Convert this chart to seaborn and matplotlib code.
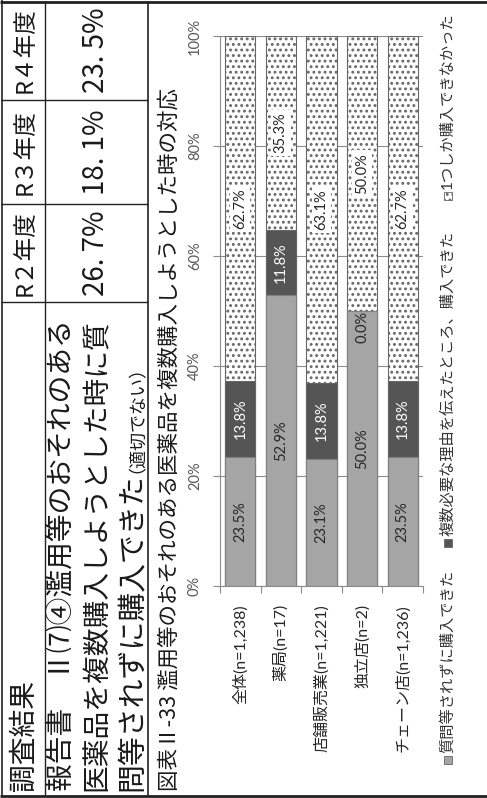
import numpy as np
import pandas as pd
import matplotlib
matplotlib.use("Agg")
import matplotlib.pyplot as plt
from matplotlib.patches import Rectangle
from matplotlib.lines import Line2D
import seaborn as sns

# ---- data ----
categories = ["全体(n=1,238)", "薬局(n=17)", "店舗販売業(n=1,221)", "独立店(n=2)", "チェーン店(n=1,236)"]
series_names = ["質問等されずに購入できた", "複数必要な理由を伝えたところ、購入できた", "1つしか購入できなかった"]
no_question = [23.5, 52.9, 23.1, 50.0, 23.5]
explained = [13.8, 11.8, 13.8, 0.0, 13.8]
only_one = [62.7, 35.3, 63.1, 50.0, 62.7]
value_ticks = [0, 20, 40, 60, 80, 100]

table_corner = "調査結果"
table_years = ["R２年度", "R３年度", "R４年度"]
table_item_lines = ["報告書　Ⅱ⑺④濫用等のおそれのある", "医薬品を複数購入しようとした時に質", "問等されずに購入できた"]
table_item_note = "（適切でない）"
table_values = ["26. 7%", "18. 1%", "23. 5%"]
chart_title = "図表Ⅱ-33 濫用等のおそれのある医薬品を複数購入しようとした時の対応"

# ---- style ----
sns.set_style("white")
CJK = ["Noto Sans CJK JP", "DejaVu Sans"]
LATIN_CJK = ["Lato", "Noto Sans CJK JP", "DejaVu Sans"]
plt.rcParams["font.family"] = CJK
plt.rcParams["hatch.linewidth"] = 1.3

LIGHT = "#a5a5a5"
DARK = "#555555"
EDGE = "#666666"
GRID = "#8c8c8c"
INK = "#1a1a1a"
LINE = "#222222"
LABEL_DARK = "#262626"

W, H = 487, 798
fig = plt.figure(figsize=(W / 100, H / 100), dpi=100)
fig.patch.set_facecolor("white")


def fx(px):
    return px / W


def fy(py):
    return 1 - py / H


def seg(x0, y0, x1, y1, lw=1.0, color=LINE):
    fig.add_artist(Line2D([fx(x0), fx(x1)], [fy(y0), fy(y1)], color=color,
                          lw=lw, transform=fig.transFigure, solid_capstyle="butt"))


# ---- table (rotated layout) ----
seg(0, 1.5, W, 1.5, lw=2.0)
seg(0, 795.5, W, 795.5, lw=2.0)
seg(1.5, 0, 1.5, 797, lw=1.2)
seg(45, 1, 45, 796, lw=1.0)
seg(148, 1, 148, 796, lw=1.2)
for yb in (100, 204, 302):
    seg(1, yb, 148, yb, lw=1.0)

cell_centers = [253, 152, 50.5]
fig.text(fx(24), fy(791), table_corner, rotation=90, ha="center", va="bottom",
         fontsize=20, color=INK)
for yc, yr, val in zip(cell_centers, table_years, table_values):
    fig.text(fx(25), fy(yc), yr, rotation=90, ha="center", va="center",
             fontsize=17, color=INK)
    fig.text(fx(96), fy(yc), val, rotation=90, ha="center", va="center",
             fontsize=20, color=INK)

line_x = [63, 97, 132]
line_size = [20, 20, 20.8]
last = None
for xc, txt, fs in zip(line_x, table_item_lines, line_size):
    last = fig.text(fx(xc), fy(791), txt, rotation=90, ha="center", va="bottom",
                    fontsize=fs, color=INK)
fig.canvas.draw()
bb = last.get_window_extent(fig.canvas.get_renderer())
fig.text(fx(128), bb.y1 / fig.bbox.height, table_item_note, rotation=90,
         ha="center", va="bottom", fontsize=13, color=INK)

# ---- chart title ----
fig.text(fx(170), fy(791), chart_title, rotation=90, ha="center", va="bottom",
         fontsize=15.5, color=INK)

# ---- stacked bars (drawn as overlaid cumulative totals) ----
df = pd.DataFrame({"category": categories, "no_question": no_question,
                   "explained": explained, "only_one": only_one})
df["cum1"] = df["no_question"]
df["cum2"] = df["cum1"] + df["explained"]
df["cum3"] = df["cum2"] + df["only_one"]

ax = fig.add_axes([fx(220), fy(586), fx(423) - fx(220), fy(36) - fy(586)])
ax.set_axisbelow(True)
bar_w = 0.74
sns.barplot(data=df, x="category", y="cum3", order=categories, color="white",
            saturation=1, width=bar_w, edgecolor=EDGE, linewidth=0.8,
            hatch="...", errorbar=None, ax=ax)
sns.barplot(data=df, x="category", y="cum2", order=categories, color=DARK,
            saturation=1, width=bar_w, edgecolor=EDGE, linewidth=0.8,
            errorbar=None, ax=ax)
sns.barplot(data=df, x="category", y="cum1", order=categories, color=LIGHT,
            saturation=1, width=bar_w, edgecolor="#808080", linewidth=0.8,
            errorbar=None, ax=ax)

# value labels inside segments
for i in range(len(categories)):
    parts = [(0.0, no_question[i], LABEL_DARK, None),
             (no_question[i], explained[i], "white", None),
             (no_question[i] + explained[i], only_one[i], LABEL_DARK,
              dict(boxstyle="square,pad=0.2", fc="white", ec="none"))]
    for start, v, col, box in parts:
        if v == 0:
            # empty segment: label sits just below it, on the lighter bar
            y, va, col = start, "top", LABEL_DARK
        else:
            y, va = start + v / 2, "center"
        ax.text(i, y, f"{v:.1f}%", rotation=90, ha="center", va=va,
                fontsize=10.5, color=col, family=LATIN_CJK, bbox=box, zorder=5)

ax.set_xlim(-0.5, len(categories) - 0.5)
ax.set_ylim(0, 100)
ax.set_xlabel("")
ax.set_ylabel("")
ax.set_yticks(value_ticks)
ax.set_yticklabels([f"{t}%" for t in value_ticks], family=LATIN_CJK)
ax.set_xticks(range(len(categories)))
ax.set_xticklabels(categories, family=LATIN_CJK)
ax.set_xticks(np.arange(-0.5, len(categories), 1.0), minor=True)

ax.tick_params(axis="y", length=5, width=0.8, color=GRID, pad=8, labelsize=10.5,
               labelcolor="#595959", labelrotation=90, left=True)
ax.tick_params(axis="x", which="major", length=0, pad=13, labelsize=11.5,
               labelcolor=LABEL_DARK, labelrotation=90)
ax.tick_params(axis="x", which="minor", length=5, width=0.8, color=GRID,
               bottom=True, direction="out")
for lbl in ax.get_yticklabels():
    lbl.set_verticalalignment("center")
    lbl.set_horizontalalignment("right")
for lbl in ax.get_xticklabels():
    lbl.set_verticalalignment("top")
    lbl.set_horizontalalignment("center")

ax.yaxis.grid(True, color=GRID, lw=0.8)
ax.xaxis.grid(False)
for side in ("top", "right"):
    ax.spines[side].set_visible(False)
for side in ("left", "bottom"):
    ax.spines[side].set_color(GRID)
    ax.spines[side].set_linewidth(0.8)

# ---- legend (rotated, placed manually beside the plot) ----
legend_start = [764, 547, 200]
legend_faces = [LIGHT, DARK, "white"]
legend_hatch = [None, None, "..."]
for name, ys, fc, h in zip(series_names, legend_start, legend_faces, legend_hatch):
    fig.add_artist(Rectangle((fx(444), fy(ys)), 8 / W, 8 / H, transform=fig.transFigure,
                             facecolor=fc, edgecolor=EDGE, lw=0.6, hatch=h))
    fig.text(fx(448), fy(ys - 11), name, rotation=90, ha="center", va="bottom",
             fontsize=11, color="#333333", family=LATIN_CJK)

fig.savefig("out.png", dpi=100)
